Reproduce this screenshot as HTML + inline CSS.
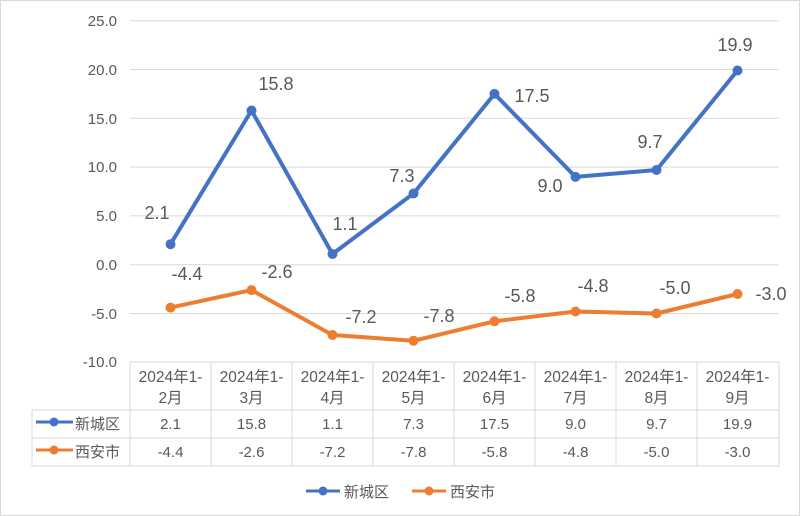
<!DOCTYPE html>
<html><head><meta charset="utf-8"><style>
body{margin:0;background:#fff}
svg{display:block;font-family:"Liberation Sans","Noto Sans CJK SC",sans-serif}
</style></head><body>
<svg width="800" height="516" viewBox="0 0 800 516">
<rect x="0.5" y="0.5" width="799" height="515" fill="#fff" stroke="#d9d9d9"/>
<g stroke="#d9d9d9" stroke-width="1">
<line x1="130" x2="779" y1="20.7" y2="20.7"/>
<line x1="130" x2="779" y1="69.5" y2="69.5"/>
<line x1="130" x2="779" y1="118.3" y2="118.3"/>
<line x1="130" x2="779" y1="167.1" y2="167.1"/>
<line x1="130" x2="779" y1="215.9" y2="215.9"/>
<line x1="130" x2="779" y1="264.7" y2="264.7"/>
<line x1="130" x2="779" y1="313.5" y2="313.5"/>
<line x1="130" x2="779" y1="362" y2="362"/>
<line x1="32" x2="779" y1="410" y2="410"/>
<line x1="32" x2="779" y1="438" y2="438"/>
<line x1="32" x2="779" y1="466" y2="466"/>
<line x1="32" x2="32" y1="410" y2="466"/>
<line x1="130" x2="130" y1="362" y2="466"/>
<line x1="211" x2="211" y1="362" y2="466"/>
<line x1="292" x2="292" y1="362" y2="466"/>
<line x1="373" x2="373" y1="362" y2="466"/>
<line x1="454" x2="454" y1="362" y2="466"/>
<line x1="535" x2="535" y1="362" y2="466"/>
<line x1="616" x2="616" y1="362" y2="466"/>
<line x1="697" x2="697" y1="362" y2="466"/>
<line x1="779" x2="779" y1="362" y2="466"/>
</g>
<g fill="#595959" font-size="15" text-anchor="end">
<text x="117" y="26">25.0</text><text x="117" y="75">20.0</text><text x="117" y="124">15.0</text>
<text x="117" y="172">10.0</text><text x="117" y="221">5.0</text><text x="117" y="270">0.0</text>
<text x="117" y="319">-5.0</text><text x="117" y="367">-10.0</text>
</g>
<g fill="#595959" font-size="15.5" text-anchor="middle">
<text x="170.5" y="382">2024年1-</text><text x="170.5" y="403">2月</text>
<text x="251.5" y="382">2024年1-</text><text x="251.5" y="403">3月</text>
<text x="332.5" y="382">2024年1-</text><text x="332.5" y="403">4月</text>
<text x="413.5" y="382">2024年1-</text><text x="413.5" y="403">5月</text>
<text x="494.5" y="382">2024年1-</text><text x="494.5" y="403">6月</text>
<text x="575.5" y="382">2024年1-</text><text x="575.5" y="403">7月</text>
<text x="656.5" y="382">2024年1-</text><text x="656.5" y="403">8月</text>
<text x="737.5" y="382">2024年1-</text><text x="737.5" y="403">9月</text>
</g>
<g fill="#595959" font-size="15" text-anchor="middle">
<text x="170.5" y="429">2.1</text><text x="251.5" y="429">15.8</text><text x="332.5" y="429">1.1</text><text x="413.5" y="429">7.3</text>
<text x="494.5" y="429">17.5</text><text x="575.5" y="429">9.0</text><text x="656.5" y="429">9.7</text><text x="737.5" y="429">19.9</text>
<text x="170.5" y="457">-4.4</text><text x="251.5" y="457">-2.6</text><text x="332.5" y="457">-7.2</text><text x="413.5" y="457">-7.8</text>
<text x="494.5" y="457">-5.8</text><text x="575.5" y="457">-4.8</text><text x="656.5" y="457">-5.0</text><text x="737.5" y="457">-3.0</text>
</g>
<g font-size="15" fill="#595959">
<line x1="36" x2="73" y1="422" y2="422" stroke="#4472c4" stroke-width="3"/><circle cx="54" cy="422" r="4.5" fill="#4472c4"/>
<text x="75" y="429">新城区</text>
<line x1="36" x2="73" y1="450" y2="450" stroke="#ed7d31" stroke-width="3"/><circle cx="54" cy="450" r="4.5" fill="#ed7d31"/>
<text x="75" y="457">西安市</text>
<line x1="306" x2="340" y1="491" y2="491" stroke="#4472c4" stroke-width="3"/><circle cx="323" cy="491" r="4.5" fill="#4472c4"/>
<text x="344" y="497">新城区</text>
<line x1="412" x2="446" y1="491" y2="491" stroke="#ed7d31" stroke-width="3"/><circle cx="429" cy="491" r="4.5" fill="#ed7d31"/>
<text x="450" y="497">西安市</text>
</g>
<polyline fill="none" stroke="#4472c4" stroke-width="4" stroke-linejoin="round" points="170.5,244.2 251.5,110.5 332.5,254 413.5,193.5 494.5,93.9 575.5,176.9 656.5,170 737.5,70.5"/>
<g fill="#4472c4"><circle cx="170.5" cy="244.2" r="5"/><circle cx="251.5" cy="110.5" r="5"/><circle cx="332.5" cy="254" r="5"/><circle cx="413.5" cy="193.5" r="5"/><circle cx="494.5" cy="93.9" r="5"/><circle cx="575.5" cy="176.9" r="5"/><circle cx="656.5" cy="170" r="5"/><circle cx="737.5" cy="70.5" r="5"/></g>
<polyline fill="none" stroke="#ed7d31" stroke-width="4" stroke-linejoin="round" points="170.5,307.6 251.5,290.1 332.5,335 413.5,340.8 494.5,321.3 575.5,311.5 656.5,313.5 737.5,294"/>
<g fill="#ed7d31"><circle cx="170.5" cy="307.6" r="5"/><circle cx="251.5" cy="290.1" r="5"/><circle cx="332.5" cy="335" r="5"/><circle cx="413.5" cy="340.8" r="5"/><circle cx="494.5" cy="321.3" r="5"/><circle cx="575.5" cy="311.5" r="5"/><circle cx="656.5" cy="313.5" r="5"/><circle cx="737.5" cy="294" r="5"/></g>
<g fill="#595959" font-size="18" text-anchor="middle">
<text x="157" y="219">2.1</text><text x="276" y="90">15.8</text><text x="345" y="230">1.1</text><text x="402" y="182">7.3</text>
<text x="532" y="102">17.5</text><text x="550" y="192">9.0</text><text x="650" y="148">9.7</text><text x="735" y="51">19.9</text>
<text x="187" y="280">-4.4</text><text x="277" y="278">-2.6</text><text x="361" y="323">-7.2</text><text x="439" y="322">-7.8</text>
<text x="520" y="302">-5.8</text><text x="593" y="292">-4.8</text><text x="675" y="294">-5.0</text><text x="771" y="300">-3.0</text>
</g>
</svg>
</body></html>
